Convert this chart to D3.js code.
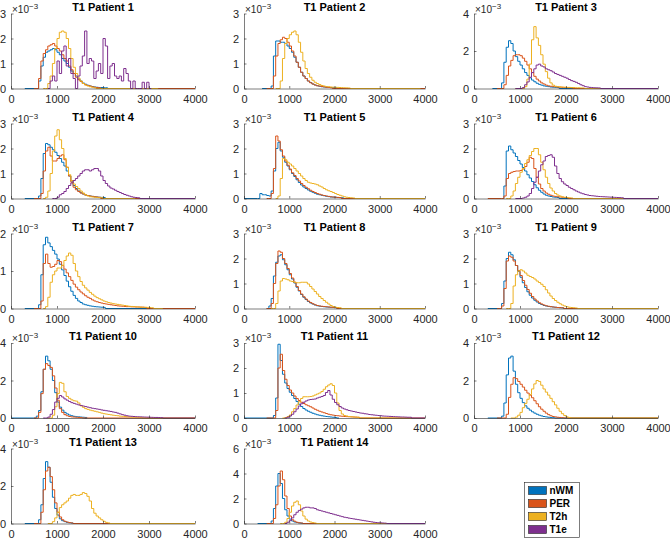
<!DOCTYPE html>
<html><head><meta charset="utf-8">
<script src="https://cdn.jsdelivr.net/npm/d3@7"></script>
<style>body{margin:0;background:#fff}svg{display:block}</style>
</head><body>
<svg id="chart" width="670" height="541"></svg>
<script>
const patients = ["T1 Patient 1","T1 Patient 2","T1 Patient 3","T1 Patient 4","T1 Patient 5","T1 Patient 6","T1 Patient 7","T1 Patient 8","T1 Patient 9","T1 Patient 10","T1 Patient 11","T1 Patient 12","T1 Patient 13","T1 Patient 14"];
const yMax = [3,3,4,3,3,3,2,3,3,4,3,4,4,6];
const yTickStep = [1,1,2,1,1,1,1,1,1,2,1,2,2,2];
const xTicks = [0,1000,2000,3000,4000];
const seriesNames = ["nWM","PER","T2h","T1e"];
const binWidth = 50;   // histogram bin width (T1 units)
// values in units of 1e-3; lo = where the zero line starts, x0 = first bin, hi = where the zero line ends
const nWM = [
 {lo:300,x0:550,hi:4000,v:[0,0.3,0.9,1.25,1.45,1.5,1.55,1.6,1.55,1.45,1.35,1.2,1.1,1.0,0.85,0.7,0.6,0.5,0.38,0.3,0.22,0.17,0.13,0.1,0.08,0.06,0.05,0.04,0.04,0.03,0.03]},
 {lo:400,x0:550,hi:4000,v:[0,0.1,1.3,1.9,1.9,1.85,1.85,1.8,1.7,1.6,1.45,1.25,1.05,0.85,0.65,0.5,0.4,0.3,0.24,0.18,0.14,0.11,0.09,0.07,0.06,0.05,0.045,0.04,0.035,0.03]},
 {lo:400,x0:550,hi:4000,v:[0,0.3,1.4,2.2,2.55,2.4,2.0,1.7,1.45,1.25,1.05,0.85,0.7,0.57,0.45,0.36,0.28,0.22,0.18,0.14,0.12,0.1,0.08,0.07,0.06,0.05]},
 {lo:300,x0:550,hi:4000,v:[0,0.1,0.8,1.8,2.2,2.15,2.05,1.95,1.85,1.72,1.6,1.45,1.3,1.1,0.9,0.7,0.52,0.4,0.3,0.23,0.18,0.14,0.12,0.1,0.085,0.07,0.06,0.05,0.045,0.04]},
 {lo:0,x0:300,hi:4000,v:[0,0.2,0.15,0.15,0.12,0.1,0.3,1.1,2.0,2.25,1.9,1.65,1.45,1.3,1.15,1.0,0.88,0.75,0.64,0.54,0.46,0.4,0.34,0.29,0.25,0.21,0.17,0.15,0.13,0.11,0.09,0.075,0.06,0.055,0.05,0.04,0.035,0.03]},
 {lo:600,x0:600,hi:4000,v:[0,0.5,1.9,2.1,1.95,1.82,1.68,1.52,1.38,1.24,1.1,0.95,0.82,0.68,0.55,0.43,0.33,0.25,0.18,0.13,0.1,0.08,0.06,0.05,0.04]},
 {lo:300,x0:550,hi:4000,v:[0,0.1,0.9,1.7,1.9,1.75,1.65,1.55,1.45,1.32,1.18,1.03,0.88,0.73,0.58,0.46,0.35,0.27,0.2,0.16,0.12,0.1,0.085,0.07,0.06,0.05,0.045,0.04,0.035,0.03]},
 {lo:500,x0:500,hi:4000,v:[0,0.1,0.4,1.3,1.85,2.1,2.15,1.95,1.75,1.55,1.35,1.18,1.02,0.85,0.7,0.56,0.45,0.36,0.28,0.22,0.18,0.14,0.11,0.095,0.08,0.07,0.06,0.055,0.05,0.045,0.04]},
 {lo:300,x0:550,hi:4000,v:[0,0.2,1.1,2.0,2.25,2.15,1.95,1.72,1.48,1.25,1.03,0.84,0.67,0.53,0.42,0.33,0.26,0.2,0.16,0.12,0.1,0.08,0.07,0.06,0.05,0.04,0.035,0.03]},
 {lo:0,x0:500,hi:1600,v:[0,0.1,0.4,1.4,2.6,3.3,3.05,2.6,2.0,1.35,0.85,0.58,0.42,0.3,0.22,0.16,0.12,0.09,0.07,0.06,0.05,0.04,0.03]},
 {lo:0,x0:600,hi:2100,v:[0,0.1,0.8,2.95,2.3,1.75,1.4,1.18,1.03,0.9,0.78,0.66,0.55,0.46,0.38,0.32,0.27,0.23,0.19,0.16,0.13,0.11,0.09,0.075,0.06,0.05,0.04,0.03,0.02]},
 {lo:300,x0:550,hi:4000,v:[0,0.1,0.8,2.3,3.2,3.3,2.5,1.8,1.35,1.05,0.82,0.65,0.52,0.42,0.33,0.26,0.2,0.15,0.11,0.08,0.06,0.04,0.03,0.02]},
 {lo:300,x0:550,hi:4000,v:[0,0.2,1.0,2.4,3.3,3.0,2.2,1.4,0.8,0.45,0.25,0.15,0.1,0.06,0.04,0.03]},
 {lo:300,x0:550,hi:4000,v:[0,0.2,1.2,3.0,4.0,3.2,2.0,1.1,0.6,0.35,0.2,0.12,0.08,0.05,0.03]}
];
const PER = [
 {lo:500,x0:550,hi:4000,v:[0,0.4,1.1,1.4,1.55,1.7,1.75,1.8,1.7,1.6,1.5,1.35,1.2,1.1,0.9,0.75,0.6,0.45,0.35,0.28,0.2,0.15,0.12,0.1,0.07,0.05,0.04,0.03]},
 {lo:500,x0:600,hi:4000,v:[0,0.5,1.3,1.8,1.95,2.05,2.0,1.85,1.7,1.5,1.3,1.05,0.85,0.65,0.5,0.4,0.3,0.23,0.18,0.14,0.11,0.095,0.08,0.065,0.05,0.04,0.03]},
 {lo:500,x0:600,hi:4000,v:[0,0.2,0.7,1.2,1.5,1.75,1.8,1.8,1.75,1.62,1.45,1.25,1.05,0.85,0.65,0.5,0.4,0.3,0.24,0.18,0.14,0.12,0.1,0.09,0.08,0.07,0.06,0.055,0.05,0.045,0.04]},
 {lo:500,x0:600,hi:4000,v:[0,0.2,1.1,1.9,2.05,1.7,1.5,1.5,1.6,1.7,1.75,1.55,1.25,0.9,0.65,0.45,0.35,0.28,0.22,0.18,0.14,0.12,0.1,0.085,0.07,0.06,0.05]},
 {lo:500,x0:550,hi:4000,v:[0,0.2,1.2,2.5,2.3,1.95,1.7,1.5,1.33,1.18,1.03,0.92,0.8,0.7,0.6,0.52,0.45,0.39,0.33,0.28,0.24,0.2,0.17,0.14,0.12,0.1,0.085,0.07,0.06,0.05,0.045,0.04]},
 {lo:300,x0:600,hi:4000,v:[0,0.1,0.8,1.0,1.05,1.08,1.1,1.1,1.12,1.18,1.28,1.45,1.65,1.6,1.2,0.85,0.58,0.4,0.3,0.22,0.17,0.13,0.1,0.085,0.07,0.06,0.05,0.04,0.03]},
 {lo:500,x0:600,hi:4000,v:[0,0.2,1.2,1.45,1.2,1.1,1.12,1.18,1.28,1.25,1.15,1.05,0.95,0.85,0.75,0.65,0.57,0.5,0.44,0.39,0.34,0.3,0.27,0.23,0.2,0.18,0.16,0.145,0.13,0.12,0.11,0.1,0.09,0.08,0.07,0.065,0.06,0.055,0.05,0.05,0.045,0.045,0.04,0.04,0.035,0.035,0.03]},
 {lo:500,x0:550,hi:4000,v:[0,0.2,1.0,1.8,2.3,2.25,2.0,1.8,1.6,1.4,1.22,1.05,0.88,0.72,0.58,0.47,0.38,0.3,0.24,0.19,0.15,0.12,0.1,0.09,0.08,0.07,0.06,0.05,0.045,0.04]},
 {lo:500,x0:550,hi:4000,v:[0,0.1,0.8,1.9,2.1,2.05,1.9,1.72,1.52,1.32,1.12,0.93,0.76,0.61,0.48,0.38,0.3,0.23,0.18,0.14,0.11,0.09,0.075,0.06,0.05,0.04,0.035,0.03]},
 {lo:500,x0:550,hi:4000,v:[0,0.3,1.3,2.6,2.9,2.8,2.7,2.25,1.6,0.95,0.5,0.3,0.18,0.12,0.08,0.06,0.05,0.04,0.03,0.02]},
 {lo:500,x0:650,hi:4000,v:[0,0.3,2.0,2.55,1.9,1.55,1.3,1.12,1.0,0.88,0.78,0.7,0.63,0.58,0.53,0.49,0.45,0.4,0.35,0.31,0.27,0.24,0.21,0.18,0.15,0.13,0.115,0.1,0.09,0.08,0.07,0.06,0.055,0.05,0.045,0.04,0.035,0.03]},
 {lo:500,x0:650,hi:4000,v:[0,0.2,1.1,1.8,2.15,2.1,1.95,1.8,1.65,1.48,1.33,1.22,1.08,0.92,0.76,0.6,0.47,0.36,0.26,0.18,0.12,0.08,0.06,0.04,0.03,0.02]},
 {lo:500,x0:600,hi:4000,v:[0,0.6,1.8,2.8,3.0,2.5,1.8,1.1,0.6,0.35,0.2,0.12,0.08,0.05,0.03]},
 {lo:500,x0:600,hi:4000,v:[0,0.4,1.5,3.0,4.2,3.5,2.2,1.2,0.6,0.3,0.18,0.1,0.06,0.04]}
];
const T2h = [
 {lo:700,x0:750,hi:3200,v:[0,0.2,0.5,1.0,1.6,2.0,2.25,2.3,2.25,2.0,1.6,1.2,0.85,0.6,0.42,0.3,0.2,0.14,0.1,0.07,0.05,0.03]},
 {lo:700,x0:750,hi:3900,v:[0,0.3,1.2,1.8,2.0,2.15,2.25,2.3,2.15,1.85,1.45,1.1,0.8,0.6,0.45,0.33,0.25,0.2,0.16,0.12,0.1,0.08,0.07,0.06,0.055,0.05,0.045,0.04,0.035,0.03,0.025,0.02]},
 {lo:900,x0:1050,hi:4000,v:[0,0.1,0.5,1.3,2.6,3.3,2.7,2.3,1.8,1.3,0.9,0.55,0.3,0.18,0.12,0.1,0.09,0.08,0.07,0.06,0.06,0.05,0.05,0.04,0.04,0.03,0.03]},
 {lo:700,x0:700,hi:2700,v:[0,0.05,0.3,1.0,1.9,2.5,2.75,2.35,2.0,1.6,1.25,0.95,0.72,0.58,0.48,0.4,0.3,0.22,0.15,0.1,0.07,0.06,0.05,0.04,0.035,0.03]},
 {lo:700,x0:700,hi:4000,v:[0,0.1,0.8,1.6,1.55,1.45,1.38,1.3,1.2,1.1,1.0,0.9,0.8,0.72,0.65,0.62,0.6,0.58,0.55,0.5,0.46,0.4,0.35,0.31,0.28,0.24,0.2,0.16,0.13,0.1,0.07,0.05,0.04,0.03,0.02]},
 {lo:700,x0:750,hi:4000,v:[0,0.1,0.3,0.6,0.85,1.05,1.2,1.4,1.55,1.72,1.88,2.0,2.0,1.75,1.45,1.15,0.85,0.6,0.42,0.3,0.2,0.14,0.1,0.07,0.05,0.04,0.03,0.02]},
 {lo:700,x0:700,hi:3300,v:[0,0.05,0.3,0.7,0.9,1.0,1.08,1.08,1.15,1.28,1.4,1.48,1.42,1.2,1.0,0.85,0.72,0.62,0.55,0.49,0.43,0.38,0.33,0.29,0.26,0.23,0.2,0.18,0.16,0.145,0.13,0.12,0.11,0.1,0.09,0.08,0.07,0.06,0.055,0.05,0.045,0.04,0.04,0.035,0.03,0.03,0.025,0.02]},
 {lo:600,x0:650,hi:4000,v:[0,0.2,0.7,1.1,1.2,1.18,1.15,1.1,1.08,1.05,1.03,1.03,1.05,1.05,1.05,0.98,0.88,0.78,0.68,0.58,0.48,0.4,0.32,0.25,0.18,0.12,0.08,0.05,0.04,0.03]},
 {lo:700,x0:750,hi:4000,v:[0,0.2,0.9,1.35,1.5,1.55,1.5,1.42,1.33,1.28,1.24,1.18,1.1,1.04,0.97,0.88,0.75,0.62,0.5,0.4,0.32,0.25,0.19,0.14,0.1,0.07,0.05,0.04,0.03,0.02]},
 {lo:800,x0:850,hi:4000,v:[0,0.15,0.6,1.3,1.9,1.85,1.4,1.15,1.05,0.97,0.92,0.9,0.8,0.65,0.57,0.5,0.46,0.42,0.39,0.36,0.33,0.3,0.26,0.23,0.21,0.19,0.17,0.15,0.13,0.12,0.1,0.09,0.08,0.07,0.06,0.05,0.045,0.04,0.035,0.03]},
 {lo:850,x0:850,hi:3700,v:[0,0.02,0.06,0.12,0.25,0.38,0.52,0.65,0.78,0.85,0.85,0.85,0.86,0.88,0.92,0.96,1.0,1.06,1.15,1.25,1.32,1.37,1.3,1.0,0.6,0.3,0.16,0.1,0.08,0.06,0.05,0.04,0.035,0.03]},
 {lo:800,x0:850,hi:4000,v:[0,0.05,0.15,0.3,0.55,0.78,1.0,1.25,1.55,1.82,2.0,1.95,1.75,1.55,1.38,1.22,1.05,0.87,0.7,0.52,0.36,0.23,0.13,0.06,0.03]},
 {lo:800,x0:850,hi:4000,v:[0,0.1,0.3,0.6,0.85,1.0,1.1,1.2,1.35,1.5,1.55,1.5,1.5,1.55,1.65,1.6,1.45,1.2,0.8,0.55,0.4,0.3,0.2,0.12,0.06,0.03]},
 {lo:800,x0:850,hi:4000,v:[0,0.1,0.4,0.9,1.4,1.7,1.8,1.5,1.0,0.6,0.35,0.2,0.12,0.07,0.04]}
];
const T1e = [
 {lo:800,x0:800,hi:3050,v:[0,0.3,0.5,0.3,1.1,0.6,1.5,1.7,0.9,1.2,0.6,0.4,0,0.5,0.9,1.3,2.3,1.0,1.2,1.1,0.4,0.7,1.0,0.6,2.0,1.7,0.4,0.9,1.0,0.5,0.4,0.5,0.3,0.8,0.6,0.3,0,0.3,0,0,0,0.25,0,0.25,0]},
 null,
 {lo:900,x0:1000,hi:4000,v:[0,0.05,0.2,0.35,0.6,0.85,1.05,1.25,1.3,1.2,1.15,1.05,1.0,0.95,0.88,0.8,0.75,0.7,0.65,0.6,0.55,0.48,0.42,0.38,0.33,0.27,0.2,0.15,0.1,0.08,0.06,0.05,0.04,0.035,0.03]},
 {lo:900,x0:950,hi:4000,v:[0,0.05,0.15,0.2,0.28,0.4,0.52,0.62,0.72,0.8,0.9,1.0,1.1,1.15,1.15,1.1,1.15,1.2,1.2,1.1,0.9,0.72,0.6,0.5,0.42,0.38,0.33,0.28,0.24,0.2,0.16,0.13,0.1,0.07,0.05,0.04,0.03]},
 null,
 {lo:900,x0:1000,hi:4000,v:[0,0.02,0.05,0.1,0.2,0.4,0.65,0.85,1.1,1.35,1.5,1.68,1.72,1.75,1.65,1.3,1.0,0.8,0.67,0.58,0.52,0.45,0.4,0.35,0.3,0.26,0.22,0.19,0.16,0.14,0.12,0.11,0.1,0.09,0.08,0.075,0.07,0.065,0.06,0.055,0.05,0.045,0.04,0.035,0.03]},
 null, null, null,
 {lo:700,x0:750,hi:4000,v:[0,0.05,0.2,0.45,0.85,1.05,1.2,1.12,1.02,0.95,0.88,0.82,0.78,0.74,0.7,0.67,0.64,0.61,0.58,0.55,0.52,0.5,0.48,0.46,0.43,0.41,0.39,0.37,0.35,0.32,0.3,0.26,0.22,0.18,0.15,0.12,0.1,0.09,0.08,0.07,0.065,0.06,0.055,0.05,0.045,0.04,0.035,0.03,0.03,0.025,0.02]},
 {lo:900,x0:900,hi:4000,v:[0,0.03,0.08,0.15,0.25,0.36,0.48,0.57,0.63,0.68,0.72,0.74,0.75,0.76,0.8,0.83,0.86,0.9,1.02,1.1,0.92,0.75,0.62,0.53,0.46,0.4,0.36,0.33,0.3,0.28,0.26,0.24,0.22,0.2,0.19,0.17,0.16,0.14,0.13,0.12,0.11,0.1,0.09,0.08,0.075,0.07,0.065,0.06,0.055,0.05,0.045,0.04,0.04,0.035,0.03,0.03]},
 null, null,
 {lo:900,x0:900,hi:4000,v:[0,0.1,0.25,0.45,0.7,0.9,1.05,1.15,1.25,1.3,1.3,1.25,1.25,1.2,1.1,1.05,1.0,0.95,0.9,0.85,0.8,0.75,0.7,0.65,0.6,0.55,0.5,0.47,0.43,0.4,0.37,0.34,0.31,0.28,0.25,0.22,0.19,0.16,0.13,0.1,0.08,0.06,0.05,0.04,0.03]}
];
const seriesData = {nWM, PER, T2h, T1e};

const colors = {nWM:"#0072BD", PER:"#D95319", T2h:"#EDB120", T1e:"#7E2F8E"};
const colLeft = [11, 244, 474], colWidth = [184, 181, 184];
const rowBottom = [88.5, 198.5, 308.5, 418, 523.5], plotH = 75;
const font = "'Liberation Sans', Arial, Helvetica, sans-serif";
const axisColor = "#262626";

const svg = d3.select("#chart");

patients.forEach((name, i) => {
  const r = Math.floor(i / 3), c = i % 3;
  const left = colLeft[c], w = colWidth[c], bottom = rowBottom[r], top = bottom - plotH;
  const x = d3.scaleLinear().domain([0, 4000]).range([left, left + w]);
  const y = d3.scaleLinear().domain([0, yMax[i]]).range([bottom, top]);
  const g = svg.append("g");

  seriesNames.forEach(s => {
    const d = seriesData[s][i];
    if (!d) return;
    const pts = [[d.lo, 0]];
    d.v.forEach((val, k) => pts.push([d.x0 + k * binWidth, val]));
    pts.push([d.x0 + d.v.length * binWidth, 0]);
    pts.push([d.hi, 0]);
    const line = d3.line().x(p => x(p[0])).y(p => y(p[1])).curve(d3.curveStepAfter);
    g.append("path").attr("d", line(pts)).attr("fill", "none")
      .attr("stroke", colors[s]).attr("stroke-width", 1);
  });

  const xa = d3.axisBottom(x).tickValues(xTicks).tickFormat(d3.format("d")).tickSize(-2.5).tickSizeOuter(0).tickPadding(6.5);
  const ya = d3.axisLeft(y).tickValues(d3.range(0, yMax[i] + 0.001, yTickStep[i])).tickFormat(d3.format("d")).tickSize(-2.5).tickSizeOuter(0).tickPadding(5);
  const gx = g.append("g").attr("transform", `translate(0,${bottom})`).call(xa);
  const gy = g.append("g").attr("transform", `translate(${left},0)`).call(ya);
  [gx, gy].forEach(a => {
    a.selectAll("path,line").attr("stroke", axisColor).attr("stroke-width", 0.6);
    a.selectAll("text").attr("fill", axisColor).style("font-family", font).style("font-size", "11px");
  });

  const ex = g.append("text").attr("x", left + 1).attr("y", top - 1)
    .attr("fill", axisColor).style("font-family", font).style("font-size", "10px");
  ex.append("tspan").text("\u00D710");
  ex.append("tspan").attr("dy", -4).style("font-size", "8px").text("\u22123");

  g.append("text").attr("x", left + w / 2).attr("y", top - 3).attr("text-anchor", "middle")
    .style("font-family", font).style("font-size", "11px").style("font-weight", "bold").attr("fill", "#000")
    .text(name);
});

const lg = svg.append("g");
const lx = 524.5, ly = 482.5, lw = 55, lh = 55;
lg.append("rect").attr("x", lx).attr("y", ly).attr("width", lw).attr("height", lh)
  .attr("fill", "#fff").attr("stroke", axisColor).attr("stroke-width", 0.6);
seriesNames.forEach((s, k) => {
  const cy = ly + 8 + k * 13;
  lg.append("rect").attr("x", lx + 4).attr("y", cy - 4).attr("width", 18).attr("height", 8)
    .attr("fill", colors[s]).attr("stroke", axisColor).attr("stroke-width", 0.6);
  lg.append("text").attr("x", lx + 25).attr("y", cy + 3.5).attr("fill", "#000")
    .style("font-family", font).style("font-size", "10px").style("font-weight", "bold").text(s);
});
</script>
</body></html>
